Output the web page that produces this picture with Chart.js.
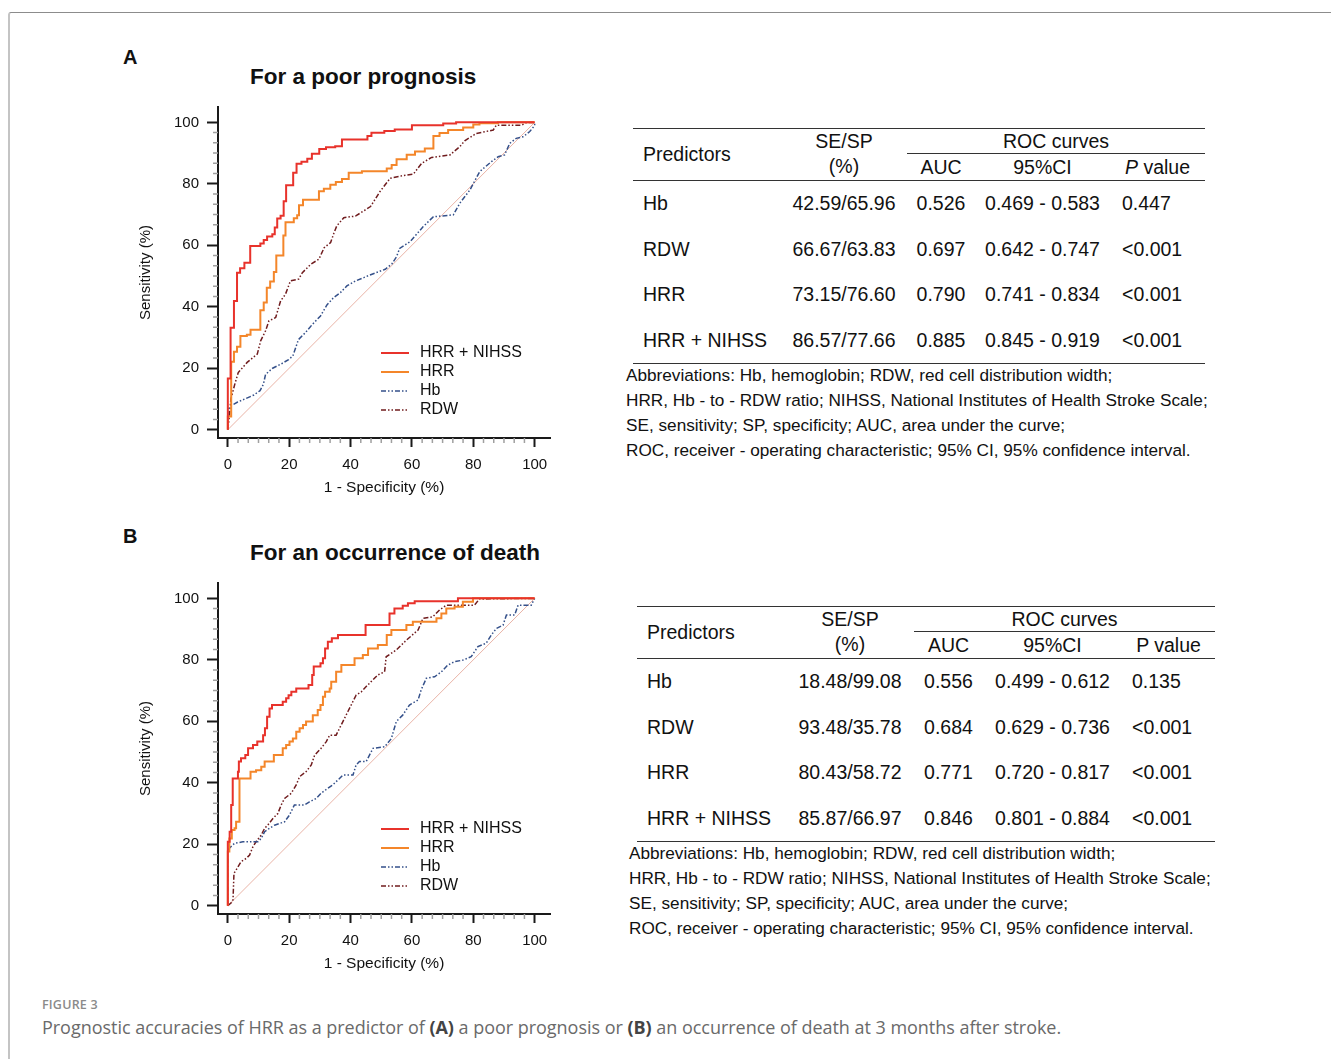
<!DOCTYPE html>
<html>
<head>
<meta charset="utf-8">
<title>Figure 3 - ROC curves</title>
<script src="https://cdn.jsdelivr.net/npm/chart.js@4.4.1/dist/chart.umd.min.js"></script>
<style>
  html, body { margin: 0; padding: 0; background: #fff; }
  body { width: 1331px; height: 1059px; position: relative; overflow: hidden;
         font-family: "Liberation Sans", Arial, sans-serif; color: #111; }
  .frame { position: absolute; left: 8px; top: 12px; right: -4px; bottom: -4px;
           border-top: 1.5px solid #8c8c8c; border-left: 2px solid #c4c4c4; border-top-left-radius: 3px; }
  .panel-letter { position: absolute; font-weight: bold; font-size: 20px; }
  .panel-title { position: absolute; font-weight: bold; font-size: 22.5px; }
  .chart-box { position: absolute; width: 440px; height: 410px; }
  table.roc { position: absolute; border-collapse: collapse; font-size: 19.5px; table-layout: fixed;
              border-top: 1.5px solid #333; border-bottom: 1.5px solid #333; }
  table.roc td { padding: 0; white-space: nowrap; }
  table.roc thead tr.h1 td { height: 24px; }
  table.roc thead tr.h2 td { height: 26px; border-bottom: 1.5px solid #333; }
  table.roc td.roc-head { border-bottom: 1.5px solid #333; text-align: center; }
  table.roc tbody td { height: 45.5px; }
  table.roc .c { text-align: center; }
  table.roc .pl { padding-left: 10px; }
  .abbr { position: absolute; font-size: 17.2px; line-height: 25px; white-space: nowrap; }
  .fig-label { position: absolute; left: 42px; top: 996px; font-family: "Open Sans", sans-serif;
               font-size: 12.5px; font-weight: 600; color: #8a8a8a; letter-spacing: 0.2px; }
  .fig-caption { position: absolute; left: 42px; top: 1015px; font-family: "Open Sans", sans-serif;
                 font-size: 18px; font-weight: 400; color: #6a6a6a; white-space: nowrap; letter-spacing: -0.03px; }
  .fig-caption b { color: #444; }
</style>
</head>
<body>
<div class="frame"></div>

<div class="panel-letter" style="left:123px; top:46px;">A</div>
<div class="panel-title" style="left:250px; top:64px;">For a poor prognosis</div>
<div class="chart-box" style="left:130px; top:95px;"><canvas id="chartA"></canvas></div>

<table class="roc" style="left:633px; top:128px; width:572px;">
  <colgroup><col style="width:148px"><col style="width:126px"><col style="width:68px"><col style="width:135px"><col style="width:95px"></colgroup>
  <thead>
    <tr class="h1"><td class="pl" rowspan="2" style="border-bottom:1.5px solid #333;">Predictors</td><td class="c">SE/SP</td><td class="roc-head" colspan="3">ROC curves</td></tr>
    <tr class="h2"><td class="c">(%)</td><td class="c">AUC</td><td class="c">95%CI</td><td class="c"><i>P</i> value</td></tr>
  </thead>
  <tbody id="tableA"></tbody>
</table>
<div class="abbr" style="left:626px; top:363px;">
  Abbreviations: Hb, hemoglobin; RDW, red cell distribution width;<br>
  HRR, Hb - to - RDW ratio; NIHSS, National Institutes of Health Stroke Scale;<br>
  SE, sensitivity; SP, specificity; AUC, area under the curve;<br>
  ROC, receiver - operating characteristic; 95% CI, 95% confidence interval.
</div>

<div class="panel-letter" style="left:123px; top:525px;">B</div>
<div class="panel-title" style="left:250px; top:540px;">For an occurrence of death</div>
<div class="chart-box" style="left:130px; top:571px;"><canvas id="chartB"></canvas></div>

<table class="roc" style="left:637px; top:606px; width:578px;">
  <colgroup><col style="width:149px"><col style="width:128px"><col style="width:69px"><col style="width:139px"><col style="width:93px"></colgroup>
  <thead>
    <tr class="h1"><td class="pl" rowspan="2" style="border-bottom:1.5px solid #333;">Predictors</td><td class="c">SE/SP</td><td class="roc-head" colspan="3">ROC curves</td></tr>
    <tr class="h2"><td class="c">(%)</td><td class="c">AUC</td><td class="c">95%CI</td><td class="c">P value</td></tr>
  </thead>
  <tbody id="tableB"></tbody>
</table>
<div class="abbr" style="left:629px; top:841px;">
  Abbreviations: Hb, hemoglobin; RDW, red cell distribution width;<br>
  HRR, Hb - to - RDW ratio; NIHSS, National Institutes of Health Stroke Scale;<br>
  SE, sensitivity; SP, specificity; AUC, area under the curve;<br>
  ROC, receiver - operating characteristic; 95% CI, 95% confidence interval.
</div>

<div class="fig-label">FIGURE 3</div>
<div class="fig-caption">Prognostic accuracies of HRR as a predictor of <b>(A)</b> a poor prognosis or <b>(B)</b> an occurrence of death at 3 months after stroke.</div>

<script>
// ROC curve points: [1 - specificity (%), sensitivity (%)]

// A: poor prognosis
const poorHrrNihss = [[0,0],[0,16.7],[0.9,33.2],[2,41.9],[3,51.1],[4,52.5],[5.4,54.3],[7.3,59.8],[10.6,60.6],[11.7,61.7],[12.8,62.9],[14.5,63.6],[15.3,65.8],[16.1,68.7],[17.2,69.6],[18.2,74.3],[19,79.5],[21.3,83.6],[22.4,86.5],[24,87.2],[25.9,88.2],[27.4,89.8],[29.8,91.3],[32,91.9],[35,92.2],[37.2,94.4],[45.5,95.6],[46.8,96.6],[51,97.2],[54.4,97.7],[60,99.1],[70.2,99.6],[74.4,100],[100,100]];
const poorHrr = [[0,0],[0,4.3],[1.1,22.1],[2,25.4],[3,27],[4.1,30.5],[6.2,30.9],[7.4,32.5],[10.6,38.9],[11.7,41.4],[12.7,46.2],[13.8,48.2],[15,51.3],[15.8,56.7],[18.1,63.2],[18.8,67.5],[21.5,68.8],[22.6,69.8],[23.2,73],[24.5,74.8],[29.7,77.6],[31.3,78.4],[33.4,79.7],[35.2,80.6],[37.2,81.6],[39.4,83.6],[43.7,84.1],[51.8,85],[53.4,86.1],[55,88],[58.3,89.5],[61,90.5],[64.2,91.5],[67,95.6],[69,96.5],[71.8,97.5],[76.7,98.3],[80,99.3],[82,99.7],[88,100],[100,100]];
const poorHb = [[0,0],[0,6.5],[1.2,7.9],[3.2,9],[5.8,10.1],[8.5,11.3],[10.5,12.7],[11.6,14.8],[12.3,18],[14.6,20],[17.4,21.4],[19.8,22.8],[21.2,24],[23,29.3],[25.3,31.6],[27.5,34.2],[30.2,37],[32.3,40.6],[34.5,43],[36.7,44.6],[38.8,46.8],[41.6,48.4],[44.3,49.5],[47,50.6],[51.3,52.2],[53.5,54],[55,56.3],[56,59],[59.4,61.2],[63.7,66.1],[67,69.3],[73.5,69.9],[75.6,73.7],[78.9,78],[82.1,84],[85.9,87.2],[88.1,88.8],[90.2,89.4],[91.9,93.2],[94,94.8],[96.2,95.3],[98.4,97],[100,99],[100,100]];
const poorRdw = [[0,0],[0.4,3.4],[1,10],[2.3,14.9],[3.4,18.6],[6.3,21.9],[9.6,24.6],[10.7,28.9],[12.3,32.2],[13.4,35.4],[15.6,36.5],[17.2,41.9],[18.8,44.1],[20.4,48.4],[23.1,49],[24.3,51.1],[27,53.8],[29.7,55.5],[31.4,59.2],[33.5,60.9],[34.6,64],[35.5,66.3],[37.8,69],[41.6,69.5],[46.5,72.6],[49.6,77.5],[52.9,81.8],[57.2,82.7],[60.5,83.2],[63.2,86.7],[66.4,88.6],[72.4,89.4],[75.6,92.1],[77.2,94],[81,96.4],[86.5,97.5],[87.5,99.1],[95.7,99.1],[97.3,99.9],[100,100]];

// B: occurrence of death
const deathHrrNihss = [[0,0],[0,20.8],[0.6,24.1],[1.1,32.8],[1.6,41.4],[3.3,43.6],[3.6,46.9],[4.3,48],[5.7,49],[6.6,51.2],[8.2,52.3],[9.6,53.4],[11.5,55.5],[12.1,57.7],[12.8,61.5],[13.6,64.2],[14.4,65.3],[17.9,66.4],[19,67.5],[19.8,68.5],[20.7,69.6],[22.3,70.7],[26.3,71.8],[27.5,75.1],[28,77.8],[30.2,78.9],[31,80.5],[31.7,83.7],[32.6,85.9],[33.9,87],[35.9,88.1],[44.9,91.3],[52.7,95.1],[54.3,96.7],[57,97.6],[58.7,98.4],[60.9,99.1],[75,100],[100,100]];
const deathHrr = [[0,0],[0,17.6],[0.5,21.9],[1.3,24.6],[2.2,25.2],[2.7,27.3],[3.8,41.4],[7.4,43.6],[9.2,44.1],[10.9,45.2],[12,46.9],[15,49],[17.9,51.2],[19,52.3],[20.1,53.4],[21.2,54.4],[22.3,56.6],[23.4,57.7],[24.5,58.8],[25.5,59.9],[27.7,62],[29.3,63.7],[30.2,65.3],[31,68],[31.7,69.6],[33.2,70.7],[33.7,72.9],[35.3,76.1],[37,78.3],[41.3,80.5],[44,81.6],[45.7,83.7],[48.9,84.8],[51.8,88.1],[53.3,89.7],[58.2,91.3],[60.3,92.4],[68,93.5],[69.6,95.1],[71.2,96.7],[73.9,97.3],[76.6,98.9],[79.9,100],[100,100]];
const deathHb = [[0,0],[0,17.6],[0.5,18.7],[2.2,20.3],[4.9,20.8],[9.8,20.8],[10.9,21.9],[12,24.1],[13.6,25.2],[15.2,26.2],[18.5,27.3],[20.1,29.5],[21.7,32.8],[25,32.8],[26.6,33.8],[28.8,34.9],[30.4,36.6],[32.6,38.2],[34.2,39.3],[36.4,41.4],[37.5,42.5],[40.8,42.5],[41.8,45.8],[42.9,46.9],[45.1,46.9],[47.3,51.2],[51.1,51.7],[51.6,52.3],[53.3,54.4],[54.9,59.9],[57,62],[59.2,65.3],[62,66.9],[63,70.2],[64.7,74],[67.4,74.5],[69.6,76.1],[71.7,78.3],[73.9,79.4],[76.6,79.9],[79.3,81],[81.5,84.3],[84.2,85.4],[85.9,88.1],[87.5,90.2],[89.7,91.3],[90.8,94.6],[93.5,94.6],[94.6,97.8],[98.9,97.8],[100,100]];
const deathRdw = [[0,0],[1.2,1],[1.7,2],[2,10.5],[3,12.1],[4.3,14.3],[6,15.4],[7.1,16.5],[8.2,19.2],[9.2,20.8],[10.9,23],[12,25.2],[13,26.2],[14.7,28.4],[16.3,30],[17.4,32.8],[18.5,34.9],[20.7,36.6],[22.3,39.3],[23.4,42],[25.5,43.6],[27.2,45.8],[28.3,49],[30.4,51.2],[32.1,53.4],[33.2,55.5],[35.3,55.5],[36.4,57.7],[37.5,59.9],[39.1,63.1],[40.2,65.3],[41.8,68.5],[43.5,69.6],[45.1,71.3],[46.7,72.9],[48.9,75.1],[51.1,76.1],[51.6,81],[54.9,83.2],[58.2,86.4],[62,89.7],[63.6,93.5],[66.8,94],[69,96.2],[71.2,97.8],[80.4,97.8],[82,99.8],[100,100]];

const chanceLine = [[0,0],[100,100]];
const axisTicks = [0, 20, 40, 60, 80, 100];

// table rows: predictor, SE/SP, AUC, 95%CI, P
const predictors = ['Hb', 'RDW', 'HRR', 'HRR + NIHSS'];
const poorSeSp = ['42.59/65.96', '66.67/63.83', '73.15/76.60', '86.57/77.66'];
const poorAuc = ['0.526', '0.697', '0.790', '0.885'];
const poorCi = ['0.469 - 0.583', '0.642 - 0.747', '0.741 - 0.834', '0.845 - 0.919'];
const poorP = ['0.447', '<0.001', '<0.001', '<0.001'];
const deathSeSp = ['18.48/99.08', '93.48/35.78', '80.43/58.72', '85.87/66.97'];
const deathAuc = ['0.556', '0.684', '0.771', '0.846'];
const deathCi = ['0.499 - 0.612', '0.629 - 0.736', '0.720 - 0.817', '0.801 - 0.884'];
const deathP = ['0.135', '<0.001', '<0.001', '<0.001'];

const FONT = "'Liberation Sans', Arial, sans-serif";
Chart.defaults.font.family = FONT;
Chart.defaults.color = '#111';

function fillTable(id, seSp, auc, ci, p, pPad) {
  const body = document.getElementById(id);
  predictors.forEach((name, i) => {
    const tr = document.createElement('tr');
    tr.innerHTML = `<td class="pl">${name}</td><td class="c">${seSp[i]}</td><td class="c">${auc[i]}</td>` +
      `<td class="c">${ci[i]}</td><td style="padding-left:${pPad}px">${p[i].replace('<', '&lt;')}</td>`;
    body.appendChild(tr);
  });
}
fillTable('tableA', poorSeSp, poorAuc, poorCi, poorP, 12);
fillTable('tableB', deathSeSp, deathAuc, deathCi, deathP, 10);

const toXY = pts => pts.map(([x, y]) => ({ x, y }));

// short grey ticks every 20/6 between the labelled ones
const minorTicks = {
  id: 'minorTicks',
  afterDraw(chart) {
    const { ctx, scales: { x, y } } = chart;
    ctx.save();
    ctx.strokeStyle = '#a0a0a0';
    ctx.lineWidth = 1.5;
    ctx.beginPath();
    for (let i = 1; i < 30; i++) {
      if (i % 6 === 0) continue;
      const v = i * 20 / 6;
      const px = x.getPixelForValue(v);
      ctx.moveTo(px, x.top); ctx.lineTo(px, x.top + 5);
      const py = y.getPixelForValue(v);
      ctx.moveTo(y.right, py); ctx.lineTo(y.right - 5, py);
    }
    ctx.stroke();
    ctx.restore();
  }
};

// legend drawn inside the plot, lower right
const insideLegend = {
  id: 'insideLegend',
  afterDatasetsDraw(chart) {
    const { ctx, chartArea } = chart;
    const items = chart.data.datasets.filter(d => d.label);
    ctx.save();
    ctx.font = `16px ${FONT}`;
    ctx.textBaseline = 'middle';
    items.forEach((d, i) => {
      const yy = chartArea.bottom - 85 + i * 19;
      const x0 = chartArea.left + 163;
      ctx.strokeStyle = d.borderColor;
      ctx.lineWidth = d.borderWidth;
      ctx.setLineDash(d.borderDash || []);
      ctx.beginPath();
      ctx.moveTo(x0, yy);
      ctx.lineTo(x0 + 28, yy);
      ctx.stroke();
      ctx.setLineDash([]);
      ctx.fillStyle = '#111';
      ctx.fillText(d.label, x0 + 39, yy);
    });
    ctx.restore();
  }
};

// keep the plot box fixed: no extra room reserved for edge labels
function fixBox(s, size) {
  if (s.isHorizontal()) s.height = size; else s.width = size;
  s.paddingTop = 0; s.paddingBottom = 0; s.paddingLeft = 0; s.paddingRight = 0;
}

function makeRoc(canvasId, hrrNihss, hrr, hb, rdw) {
  const dashDotDot = [5, 2, 1.5, 2, 1.5, 2];
  new Chart(document.getElementById(canvasId), {
    type: 'line',
    data: {
      datasets: [
        { label: 'HRR + NIHSS', data: toXY(hrrNihss), borderColor: '#e8322b', borderWidth: 2, stepped: 'before' },
        { label: 'HRR', data: toXY(hrr), borderColor: '#f4862a', borderWidth: 2, stepped: 'before' },
        { label: 'Hb', data: toXY(hb), borderColor: '#34508a', borderWidth: 1.5, borderDash: dashDotDot },
        { label: 'RDW', data: toXY(rdw), borderColor: '#701c1e', borderWidth: 1.5, borderDash: dashDotDot },
        { label: '', data: toXY(chanceLine), borderColor: '#e9b3a6', borderWidth: 1 }
      ]
    },
    options: {
      responsive: true,
      maintainAspectRatio: false,
      animation: false,
      parsing: false,
      elements: { point: { radius: 0 }, line: { tension: 0, fill: false } },
      layout: { padding: { top: 12, right: 20, left: 0, bottom: 0 } },
      plugins: { legend: { display: false }, tooltip: { enabled: false } },
      scales: {
        x: {
          type: 'linear', min: -3.2, max: 105,
          border: { color: '#1a1a1a', width: 2 },
          grid: { drawOnChartArea: false, tickLength: 9, tickColor: '#1a1a1a', tickWidth: 2 },
          ticks: { font: { size: 15 }, color: '#111', padding: 9 },
          afterBuildTicks: s => { s.ticks = axisTicks.map(v => ({ value: v })); },
          afterFit: s => fixBox(s, 67),
          title: { display: true, text: '1 - Specificity (%)', font: { size: 15.5 }, color: '#111', padding: { top: 0, bottom: 8 } }
        },
        y: {
          type: 'linear', min: -2.7, max: 105,
          border: { color: '#1a1a1a', width: 2 },
          grid: { drawOnChartArea: false, tickLength: 11, tickColor: '#1a1a1a', tickWidth: 2 },
          ticks: { font: { size: 15 }, color: '#111', padding: 8 },
          afterBuildTicks: s => { s.ticks = axisTicks.map(v => ({ value: v })); },
          afterFit: s => fixBox(s, 88),
          title: { display: true, text: 'Sensitivity (%)', font: { size: 15 }, color: '#111', padding: { top: 7, bottom: 0 } }
        }
      }
    },
    plugins: [minorTicks, insideLegend]
  });
}

makeRoc('chartA', poorHrrNihss, poorHrr, poorHb, poorRdw);
makeRoc('chartB', deathHrrNihss, deathHrr, deathHb, deathRdw);
</script>
</body>
</html>
